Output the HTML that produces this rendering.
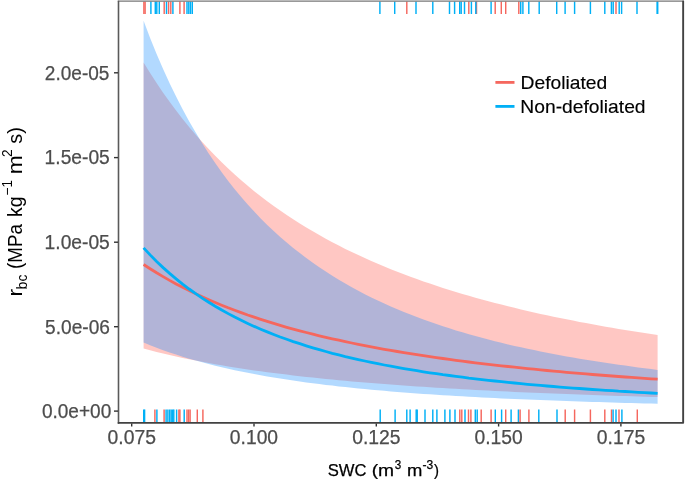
<!DOCTYPE html>
<html><head><meta charset="utf-8"><title>chart</title>
<style>
html,body{margin:0;padding:0;background:#fff;}
svg{display:block;will-change:transform;font-family:"Liberation Sans",sans-serif;}
</style></head><body>
<svg width="685" height="479" viewBox="0 0 685 479">
<rect width="685" height="479" fill="#fff"/>
<!-- ribbons -->
<path d="M143.6,62.4 L150.1,73.0 L156.6,83.1 L163.1,92.7 L169.6,101.8 L176.1,110.6 L182.6,119.0 L189.1,127.0 L195.7,134.7 L202.2,142.0 L208.7,149.1 L215.2,155.8 L221.7,162.3 L228.2,168.5 L234.7,174.5 L241.2,180.3 L247.7,185.8 L254.2,191.2 L260.7,196.3 L267.2,201.2 L273.7,206.0 L280.2,210.6 L286.7,215.0 L293.2,219.3 L299.8,223.5 L306.3,227.5 L312.8,231.3 L319.3,235.1 L325.8,238.7 L332.3,242.2 L338.8,245.6 L345.3,248.9 L351.8,252.0 L358.3,255.1 L364.8,258.1 L371.3,261.0 L377.8,263.8 L384.3,266.5 L390.8,269.2 L397.3,271.8 L403.9,274.3 L410.4,276.7 L416.9,279.1 L423.4,281.4 L429.9,283.6 L436.4,285.8 L442.9,287.9 L449.4,289.9 L455.9,291.9 L462.4,293.9 L468.9,295.8 L475.4,297.7 L481.9,299.5 L488.4,301.2 L494.9,302.9 L501.4,304.6 L508.0,306.3 L514.5,307.8 L521.0,309.4 L527.5,310.9 L534.0,312.4 L540.5,313.9 L547.0,315.3 L553.5,316.7 L560.0,318.0 L566.5,319.3 L573.0,320.6 L579.5,321.9 L586.0,323.1 L592.5,324.3 L599.0,325.5 L605.5,326.7 L612.1,327.8 L618.6,328.9 L625.1,330.0 L631.6,331.0 L638.1,332.1 L644.6,333.1 L651.1,334.1 L657.6,335.1 L657.6,397.1 L651.1,396.9 L644.6,396.7 L638.1,396.5 L631.6,396.3 L625.1,396.1 L618.6,395.9 L612.1,395.7 L605.5,395.5 L599.0,395.3 L592.5,395.0 L586.0,394.8 L579.5,394.6 L573.0,394.3 L566.5,394.1 L560.0,393.8 L553.5,393.6 L547.0,393.3 L540.5,393.0 L534.0,392.7 L527.5,392.4 L521.0,392.2 L514.5,391.9 L508.0,391.6 L501.4,391.2 L494.9,390.9 L488.4,390.6 L481.9,390.3 L475.4,389.9 L468.9,389.6 L462.4,389.2 L455.9,388.8 L449.4,388.4 L442.9,388.1 L436.4,387.7 L429.9,387.2 L423.4,386.8 L416.9,386.4 L410.4,385.9 L403.9,385.5 L397.3,385.0 L390.8,384.5 L384.3,384.1 L377.8,383.5 L371.3,383.0 L364.8,382.5 L358.3,381.9 L351.8,381.4 L345.3,380.8 L338.8,380.2 L332.3,379.6 L325.8,378.9 L319.3,378.3 L312.8,377.6 L306.3,376.9 L299.8,376.2 L293.2,375.4 L286.7,374.6 L280.2,373.8 L273.7,373.0 L267.2,372.2 L260.7,371.3 L254.2,370.4 L247.7,369.4 L241.2,368.5 L234.7,367.5 L228.2,366.4 L221.7,365.3 L215.2,364.2 L208.7,363.0 L202.2,361.8 L195.7,360.6 L189.1,359.3 L182.6,357.9 L176.1,356.5 L169.6,355.0 L163.1,353.5 L156.6,351.9 L150.1,350.2 L143.6,348.5Z" fill="#FF7468" fill-opacity="0.4"/>
<path d="M143.6,20.8 L150.1,37.9 L156.6,53.9 L163.1,69.0 L169.6,83.2 L176.1,96.6 L182.6,109.3 L189.1,121.2 L195.7,132.6 L202.2,143.3 L208.7,153.5 L215.2,163.1 L221.7,172.2 L228.2,180.9 L234.7,189.2 L241.2,197.0 L247.7,204.5 L254.2,211.6 L260.7,218.4 L267.2,224.9 L273.7,231.1 L280.2,237.0 L286.7,242.6 L293.2,248.0 L299.8,253.1 L306.3,258.0 L312.8,262.8 L319.3,267.3 L325.8,271.6 L332.3,275.8 L338.8,279.7 L345.3,283.6 L351.8,287.2 L358.3,290.8 L364.8,294.2 L371.3,297.4 L377.8,300.5 L384.3,303.6 L390.8,306.5 L397.3,309.3 L403.9,312.0 L410.4,314.6 L416.9,317.1 L423.4,319.5 L429.9,321.8 L436.4,324.1 L442.9,326.2 L449.4,328.3 L455.9,330.4 L462.4,332.3 L468.9,334.2 L475.4,336.0 L481.9,337.8 L488.4,339.5 L494.9,341.2 L501.4,342.8 L508.0,344.4 L514.5,345.9 L521.0,347.3 L527.5,348.8 L534.0,350.1 L540.5,351.5 L547.0,352.8 L553.5,354.0 L560.0,355.2 L566.5,356.4 L573.0,357.6 L579.5,358.7 L586.0,359.8 L592.5,360.8 L599.0,361.8 L605.5,362.8 L612.1,363.8 L618.6,364.7 L625.1,365.6 L631.6,366.5 L638.1,367.4 L644.6,368.3 L651.1,369.1 L657.6,369.9 L657.6,403.7 L651.1,403.5 L644.6,403.4 L638.1,403.2 L631.6,403.0 L625.1,402.9 L618.6,402.7 L612.1,402.5 L605.5,402.3 L599.0,402.1 L592.5,401.9 L586.0,401.7 L579.5,401.5 L573.0,401.3 L566.5,401.0 L560.0,400.8 L553.5,400.6 L547.0,400.3 L540.5,400.1 L534.0,399.8 L527.5,399.5 L521.0,399.3 L514.5,399.0 L508.0,398.7 L501.4,398.4 L494.9,398.1 L488.4,397.7 L481.9,397.4 L475.4,397.1 L468.9,396.7 L462.4,396.3 L455.9,396.0 L449.4,395.6 L442.9,395.2 L436.4,394.7 L429.9,394.3 L423.4,393.9 L416.9,393.4 L410.4,392.9 L403.9,392.4 L397.3,391.9 L390.8,391.4 L384.3,390.8 L377.8,390.3 L371.3,389.7 L364.8,389.1 L358.3,388.4 L351.8,387.8 L345.3,387.1 L338.8,386.4 L332.3,385.6 L325.8,384.9 L319.3,384.1 L312.8,383.2 L306.3,382.4 L299.8,381.5 L293.2,380.6 L286.7,379.6 L280.2,378.6 L273.7,377.5 L267.2,376.4 L260.7,375.3 L254.2,374.1 L247.7,372.8 L241.2,371.5 L234.7,370.2 L228.2,368.7 L221.7,367.3 L215.2,365.7 L208.7,364.1 L202.2,362.3 L195.7,360.6 L189.1,358.7 L182.6,356.7 L176.1,354.6 L169.6,352.5 L163.1,350.2 L156.6,347.8 L150.1,345.2 L143.6,342.5Z" fill="#1E90FF" fill-opacity="0.34"/>
<!-- lines -->
<path d="M143.6,264.5 L150.1,268.7 L156.6,272.8 L163.1,276.6 L169.6,280.4 L176.1,283.9 L182.6,287.3 L189.1,290.6 L195.7,293.8 L202.2,296.8 L208.7,299.7 L215.2,302.5 L221.7,305.2 L228.2,307.8 L234.7,310.2 L241.2,312.6 L247.7,315.0 L254.2,317.2 L260.7,319.3 L267.2,321.4 L273.7,323.4 L280.2,325.4 L286.7,327.3 L293.2,329.1 L299.8,330.8 L306.3,332.5 L312.8,334.2 L319.3,335.8 L325.8,337.3 L332.3,338.8 L338.8,340.2 L345.3,341.6 L351.8,343.0 L358.3,344.3 L364.8,345.6 L371.3,346.9 L377.8,348.1 L384.3,349.3 L390.8,350.4 L397.3,351.5 L403.9,352.6 L410.4,353.7 L416.9,354.7 L423.4,355.7 L429.9,356.6 L436.4,357.6 L442.9,358.5 L449.4,359.4 L455.9,360.3 L462.4,361.1 L468.9,362.0 L475.4,362.8 L481.9,363.6 L488.4,364.3 L494.9,365.1 L501.4,365.8 L508.0,366.5 L514.5,367.2 L521.0,367.9 L527.5,368.6 L534.0,369.2 L540.5,369.9 L547.0,370.5 L553.5,371.1 L560.0,371.7 L566.5,372.3 L573.0,372.8 L579.5,373.4 L586.0,373.9 L592.5,374.5 L599.0,375.0 L605.5,375.5 L612.1,376.0 L618.6,376.5 L625.1,377.0 L631.6,377.4 L638.1,377.9 L644.6,378.3 L651.1,378.8 L657.6,379.2" fill="none" stroke="#F5675E" stroke-width="2.8"/>
<path d="M143.6,247.9 L150.1,254.9 L156.6,261.4 L163.1,267.6 L169.6,273.4 L176.1,278.9 L182.6,284.1 L189.1,289.0 L195.7,293.7 L202.2,298.1 L208.7,302.3 L215.2,306.3 L221.7,310.0 L228.2,313.6 L234.7,317.1 L241.2,320.3 L247.7,323.4 L254.2,326.4 L260.7,329.2 L267.2,331.9 L273.7,334.5 L280.2,337.0 L286.7,339.3 L293.2,341.6 L299.8,343.7 L306.3,345.8 L312.8,347.8 L319.3,349.7 L325.8,351.5 L332.3,353.3 L338.8,354.9 L345.3,356.6 L351.8,358.1 L358.3,359.6 L364.8,361.0 L371.3,362.4 L377.8,363.7 L384.3,365.0 L390.8,366.2 L397.3,367.4 L403.9,368.6 L410.4,369.7 L416.9,370.7 L423.4,371.8 L429.9,372.8 L436.4,373.7 L442.9,374.7 L449.4,375.5 L455.9,376.4 L462.4,377.2 L468.9,378.1 L475.4,378.8 L481.9,379.6 L488.4,380.3 L494.9,381.0 L501.4,381.7 L508.0,382.4 L514.5,383.0 L521.0,383.7 L527.5,384.3 L534.0,384.9 L540.5,385.4 L547.0,386.0 L553.5,386.5 L560.0,387.1 L566.5,387.6 L573.0,388.1 L579.5,388.5 L586.0,389.0 L592.5,389.5 L599.0,389.9 L605.5,390.3 L612.1,390.7 L618.6,391.2 L625.1,391.5 L631.6,391.9 L638.1,392.3 L644.6,392.7 L651.1,393.0 L657.6,393.4" fill="none" stroke="#00B0F6" stroke-width="2.8"/>
<!-- rugs -->
<g stroke-width="1.45" fill="none">
<path d="M143.9,1.5V14" stroke="#F5675E"/>
<path d="M145.1,1.5V14" stroke="#F5675E"/>
<path d="M150.9,1.5V14" stroke="#00B0F6"/>
<path d="M155.3,1.5V14" stroke="#00B0F6"/>
<path d="M156.8,1.5V14" stroke="#00B0F6"/>
<path d="M159.3,1.5V14" stroke="#00B0F6"/>
<path d="M164.2,1.5V14" stroke="#F5675E"/>
<path d="M166.5,1.5V14" stroke="#00B0F6"/>
<path d="M168.6,1.5V14" stroke="#F5675E"/>
<path d="M170.8,1.5V14" stroke="#F5675E"/>
<path d="M172.9,1.5V14" stroke="#00B0F6"/>
<path d="M179.9,1.5V14" stroke="#F5675E"/>
<path d="M184.1,1.5V14" stroke="#F5675E"/>
<path d="M187.0,1.5V14" stroke="#00B0F6"/>
<path d="M188.8,1.5V14" stroke="#00B0F6"/>
<path d="M190.5,1.5V14" stroke="#00B0F6"/>
<path d="M192.3,1.5V14" stroke="#00B0F6"/>
<path d="M379.9,1.5V14" stroke="#00B0F6"/>
<path d="M394.7,1.5V14" stroke="#00B0F6"/>
<path d="M406.8,1.5V14" stroke="#F5675E"/>
<path d="M416.0,1.5V14" stroke="#00B0F6"/>
<path d="M432.8,1.5V14" stroke="#00B0F6"/>
<path d="M449.5,1.5V14" stroke="#00B0F6"/>
<path d="M454.6,1.5V14" stroke="#00B0F6"/>
<path d="M459.7,1.5V14" stroke="#00B0F6"/>
<path d="M461.2,1.5V14" stroke="#00B0F6"/>
<path d="M464.5,1.5V14" stroke="#00B0F6"/>
<path d="M468.8,1.5V14" stroke="#F5675E"/>
<path d="M471.4,1.5V14" stroke="#00B0F6"/>
<path d="M476.5,1.5V14" stroke="#F5675E"/>
<path d="M475.8,1.5V14" stroke="#00B0F6"/>
<path d="M491.1,1.5V14" stroke="#00B0F6"/>
<path d="M495.2,1.5V14" stroke="#F5675E"/>
<path d="M501.3,1.5V14" stroke="#F5675E"/>
<path d="M505.7,1.5V14" stroke="#F5675E"/>
<path d="M518.8,1.5V14" stroke="#F5675E"/>
<path d="M520.7,1.5V14" stroke="#00B0F6"/>
<path d="M522.9,1.5V14" stroke="#00B0F6"/>
<path d="M528.8,1.5V14" stroke="#00B0F6"/>
<path d="M539.2,1.5V14" stroke="#00B0F6"/>
<path d="M556.7,1.5V14" stroke="#00B0F6"/>
<path d="M565.1,1.5V14" stroke="#00B0F6"/>
<path d="M574.6,1.5V14" stroke="#00B0F6"/>
<path d="M590.4,1.5V14" stroke="#00B0F6"/>
<path d="M604.8,1.5V14" stroke="#00B0F6"/>
<path d="M611.4,1.5V14" stroke="#00B0F6"/>
<path d="M613.2,1.5V14" stroke="#00B0F6"/>
<path d="M616.0,1.5V14" stroke="#F5675E"/>
<path d="M619.2,1.5V14" stroke="#00B0F6"/>
<path d="M621.6,1.5V14" stroke="#00B0F6"/>
<path d="M637.0,1.5V14" stroke="#00B0F6"/>
<path d="M657.1,1.5V14" stroke="#00B0F6"/>
<path d="M657.7,1.5V14" stroke="#00B0F6"/>
<path d="M143.7,409.5V422.5" stroke="#00B0F6"/>
<path d="M144.6,409.5V422.5" stroke="#00B0F6"/>
<path d="M154.9,409.5V422.5" stroke="#F5675E"/>
<path d="M156.9,409.5V422.5" stroke="#00B0F6"/>
<path d="M164.1,409.5V422.5" stroke="#F5675E"/>
<path d="M166.1,409.5V422.5" stroke="#00B0F6"/>
<path d="M167.9,409.5V422.5" stroke="#00B0F6"/>
<path d="M169.7,409.5V422.5" stroke="#00B0F6"/>
<path d="M171.2,409.5V422.5" stroke="#00B0F6"/>
<path d="M172.7,409.5V422.5" stroke="#00B0F6"/>
<path d="M173.8,409.5V422.5" stroke="#00B0F6"/>
<path d="M176.6,409.5V422.5" stroke="#00B0F6"/>
<path d="M178.9,409.5V422.5" stroke="#F5675E"/>
<path d="M179.9,409.5V422.5" stroke="#F5675E"/>
<path d="M184.2,409.5V422.5" stroke="#00B0F6"/>
<path d="M187.0,409.5V422.5" stroke="#F5675E"/>
<path d="M188.6,409.5V422.5" stroke="#F5675E"/>
<path d="M190.1,409.5V422.5" stroke="#F5675E"/>
<path d="M197.3,409.5V422.5" stroke="#F5675E"/>
<path d="M202.9,409.5V422.5" stroke="#F5675E"/>
<path d="M380.2,409.5V422.5" stroke="#00B0F6"/>
<path d="M395.1,409.5V422.5" stroke="#00B0F6"/>
<path d="M406.8,409.5V422.5" stroke="#00B0F6"/>
<path d="M410.1,409.5V422.5" stroke="#00B0F6"/>
<path d="M416.2,409.5V422.5" stroke="#00B0F6"/>
<path d="M417.2,409.5V422.5" stroke="#00B0F6"/>
<path d="M425.0,409.5V422.5" stroke="#00B0F6"/>
<path d="M432.8,409.5V422.5" stroke="#00B0F6"/>
<path d="M436.9,409.5V422.5" stroke="#00B0F6"/>
<path d="M444.9,409.5V422.5" stroke="#00B0F6"/>
<path d="M449.9,409.5V422.5" stroke="#00B0F6"/>
<path d="M455.0,409.5V422.5" stroke="#00B0F6"/>
<path d="M459.8,409.5V422.5" stroke="#F5675E"/>
<path d="M461.8,409.5V422.5" stroke="#F5675E"/>
<path d="M465.0,409.5V422.5" stroke="#00B0F6"/>
<path d="M468.5,409.5V422.5" stroke="#F5675E"/>
<path d="M470.9,409.5V422.5" stroke="#F5675E"/>
<path d="M475.3,409.5V422.5" stroke="#00B0F6"/>
<path d="M477.2,409.5V422.5" stroke="#00B0F6"/>
<path d="M481.2,409.5V422.5" stroke="#F5675E"/>
<path d="M491.1,409.5V422.5" stroke="#F5675E"/>
<path d="M495.3,409.5V422.5" stroke="#00B0F6"/>
<path d="M501.6,409.5V422.5" stroke="#00B0F6"/>
<path d="M505.7,409.5V422.5" stroke="#F5675E"/>
<path d="M511.1,409.5V422.5" stroke="#00B0F6"/>
<path d="M518.4,409.5V422.5" stroke="#00B0F6"/>
<path d="M520.1,409.5V422.5" stroke="#F5675E"/>
<path d="M528.9,409.5V422.5" stroke="#F5675E"/>
<path d="M538.8,409.5V422.5" stroke="#00B0F6"/>
<path d="M557.0,409.5V422.5" stroke="#00B0F6"/>
<path d="M565.2,409.5V422.5" stroke="#F5675E"/>
<path d="M574.6,409.5V422.5" stroke="#F5675E"/>
<path d="M590.4,409.5V422.5" stroke="#F5675E"/>
<path d="M604.8,409.5V422.5" stroke="#F5675E"/>
<path d="M611.5,409.5V422.5" stroke="#F5675E"/>
<path d="M613.1,409.5V422.5" stroke="#00B0F6"/>
<path d="M616.0,409.5V422.5" stroke="#00B0F6"/>
<path d="M619.0,409.5V422.5" stroke="#F5675E"/>
<path d="M621.9,409.5V422.5" stroke="#00B0F6"/>
<path d="M637.3,409.5V422.5" stroke="#F5675E"/>
</g>
<!-- panel border -->
<path d="M117.8,1.2H684" stroke="#777" stroke-width="1.2" fill="none"/>
<path d="M118.5,0.7V423.8" stroke="#5a5a5a" stroke-width="1.6" fill="none"/>
<path d="M683.15,0.7V422.85H117.75" stroke="#424242" stroke-width="1.9" fill="none" stroke-linejoin="round"/>
<!-- ticks -->
<g stroke="#333" stroke-width="1.4">
<path d="M131.7,423.5V426.5"/><path d="M254.0,423.5V426.5"/><path d="M376.3,423.5V426.5"/><path d="M498.6,423.5V426.5"/><path d="M620.9,423.5V426.5"/>
<path d="M114,411.1H118"/><path d="M114,326.7H118"/><path d="M114,242.2H118"/><path d="M114,157.6H118"/><path d="M114,72.8H118"/>
</g>
<!-- tick labels -->
<g fill="#4D4D4D" stroke="#4D4D4D" stroke-width="0.25">
<text x="107.55" y="443.9" font-size="19.5" textLength="48.43" lengthAdjust="spacingAndGlyphs">0.075</text>
<text x="229.85" y="443.9" font-size="19.5" textLength="48.26" lengthAdjust="spacingAndGlyphs">0.100</text>
<text x="352.16" y="443.9" font-size="19.5" textLength="48.43" lengthAdjust="spacingAndGlyphs">0.125</text>
<text x="474.45" y="443.9" font-size="19.5" textLength="48.26" lengthAdjust="spacingAndGlyphs">0.150</text>
<text x="596.75" y="443.9" font-size="19.5" textLength="48.43" lengthAdjust="spacingAndGlyphs">0.175</text>

<text x="41.90" y="417.9" font-size="19.5" textLength="69.36" lengthAdjust="spacingAndGlyphs">0.0e+00</text>
<text x="45.05" y="333.5" font-size="19.5" textLength="64.88" lengthAdjust="spacingAndGlyphs">5.0e-06</text>
<text x="44.62" y="249.0" font-size="19.5" textLength="65.21" lengthAdjust="spacingAndGlyphs">1.0e-05</text>
<text x="44.62" y="164.4" font-size="19.5" textLength="65.21" lengthAdjust="spacingAndGlyphs">1.5e-05</text>
<text x="44.85" y="79.6" font-size="19.5" textLength="64.61" lengthAdjust="spacingAndGlyphs">2.0e-05</text>

</g>
<!-- x title -->
<g fill="#000" stroke="#000" stroke-width="0.25">
<text x="327.75" y="475.9" font-size="17" textLength="38.79" lengthAdjust="spacingAndGlyphs">SWC</text>
<text x="371.70" y="475.9" font-size="17" textLength="22.47" lengthAdjust="spacingAndGlyphs">(m</text>
<text x="394.71" y="469.2" font-size="12" textLength="6.52" lengthAdjust="spacingAndGlyphs">3</text>
<text x="406.90" y="475.9" font-size="17" textLength="15.35" lengthAdjust="spacingAndGlyphs">m</text>
<text x="422.58" y="469.2" font-size="12" textLength="10.74" lengthAdjust="spacingAndGlyphs">-3</text>
<text x="434.11" y="475.9" font-size="17" textLength="4.99" lengthAdjust="spacingAndGlyphs">)</text>

</g>
<!-- y title -->
<g fill="#000" transform="translate(22.2,295.6) rotate(-90)">
<text x="-0.97" y="0.0" font-size="20" textLength="7.61" lengthAdjust="spacingAndGlyphs">r</text>
<text x="6.23" y="4.5" font-size="14.5" textLength="14.76" lengthAdjust="spacingAndGlyphs">bc</text>
<text x="26.70" y="0.0" font-size="20" textLength="44.96" lengthAdjust="spacingAndGlyphs">(MPa</text>
<text x="78.60" y="0.0" font-size="20" textLength="20.71" lengthAdjust="spacingAndGlyphs">kg</text>
<text x="100.22" y="-10.2" font-size="14" textLength="15.38" lengthAdjust="spacingAndGlyphs">−1</text>
<text x="121.41" y="0.0" font-size="20" textLength="19.11" lengthAdjust="spacingAndGlyphs">m</text>
<text x="138.51" y="-10.2" font-size="14" textLength="7.65" lengthAdjust="spacingAndGlyphs">2</text>
<text x="151.94" y="0.0" font-size="20" textLength="16.55" lengthAdjust="spacingAndGlyphs">s)</text>

</g>
<!-- legend -->
<path d="M495.4,82.4H514.5" stroke="#F5675E" stroke-width="2.8"/>
<path d="M495.4,106.4H514.5" stroke="#00B0F6" stroke-width="2.8"/>
<g fill="#000" stroke="#000" stroke-width="0.15">
<text x="520.56" y="89.0" font-size="19" textLength="86.76" lengthAdjust="spacingAndGlyphs">Defoliated</text>
<text x="520.36" y="112.9" font-size="19" textLength="125.23" lengthAdjust="spacingAndGlyphs">Non-defoliated</text>

</g>
</svg>
</body></html>
